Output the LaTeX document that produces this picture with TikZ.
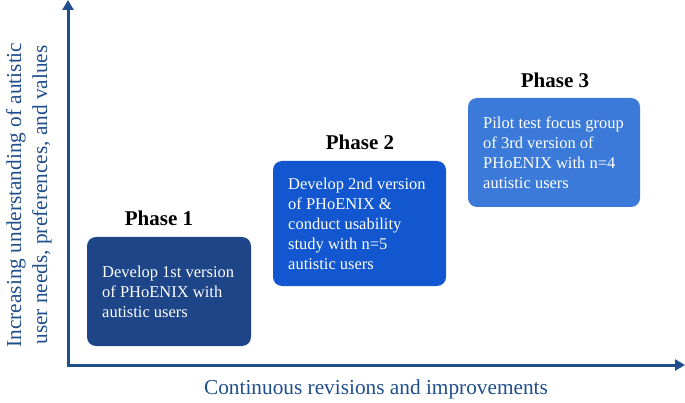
\documentclass[tikz,border=0pt]{standalone}
\usepackage{fontspec}
\setmainfont{Liberation Serif}
\usetikzlibrary{arrows.meta}
\definecolor{axisblue}{HTML}{1F4E8C}
\definecolor{boxone}{HTML}{1D4587}
\definecolor{boxtwo}{HTML}{1257D0}
\definecolor{boxthree}{HTML}{3C7ADA}
\begin{document}
\begin{tikzpicture}[x=1pt,y=-1pt,
  phasebox/.style={rounded corners=9pt, anchor=north west, inner xsep=15pt, align=left,
    text=white, font=\fontsize{16.5}{20}\selectfont},
  phaselabel/.style={font=\fontsize{21}{25}\selectfont\bfseries, text=black},
  axislabel/.style={text=axisblue, font=\fontsize{21.3}{26}\selectfont},
  axisline/.style={draw=axisblue, line width=3pt, -{Triangle[length=10pt,width=11pt]}}]
\useasboundingbox (0,0) rectangle (685,403);
% boxes
\fill[boxone, rounded corners=9pt] (87,237) rectangle (251,346);
\node[phasebox, anchor=west] (b1) at (87,291.5) {Develop 1st version\\of PHoENIX with\\autistic users};
\fill[boxtwo, rounded corners=9pt] (273,161) rectangle (446,286);
\node[phasebox, anchor=west] (b2) at (273,224) {Develop 2nd version\\of PHoENIX \&\\conduct usability\\study with n=5\\autistic users};
\fill[boxthree, rounded corners=9pt] (468,98) rectangle (640,207);
\node[phasebox, anchor=west] (b3) at (468,152.5) {Pilot test focus group\\of 3rd version of\\PHoENIX with n=4\\autistic users};
% phase labels
\node[phaselabel] (p1) at (159,218) {Phase 1};
\node[phaselabel] (p2) at (360,142) {Phase 2};
\node[phaselabel] (p3) at (555,80) {Phase 3};
% axes
\coordinate (origin) at (68,365);
\coordinate (ytip) at (68,0);
\coordinate (xtip) at (685,365);
\draw[axisline] (origin) -- (ytip);
\draw[axisline] (origin) -- (xtip);
\draw[axisblue, line width=3pt] (68,363.5) -- (68,366.5);
% axis labels
\node[axislabel] (xl) at (376,389) {Continuous revisions and improvements};
\node[axislabel, rotate=90, align=center] (yl) at (29,195) {Increasing understanding of autistic\\user needs, preferences, and values};
\end{tikzpicture}
\end{document}
